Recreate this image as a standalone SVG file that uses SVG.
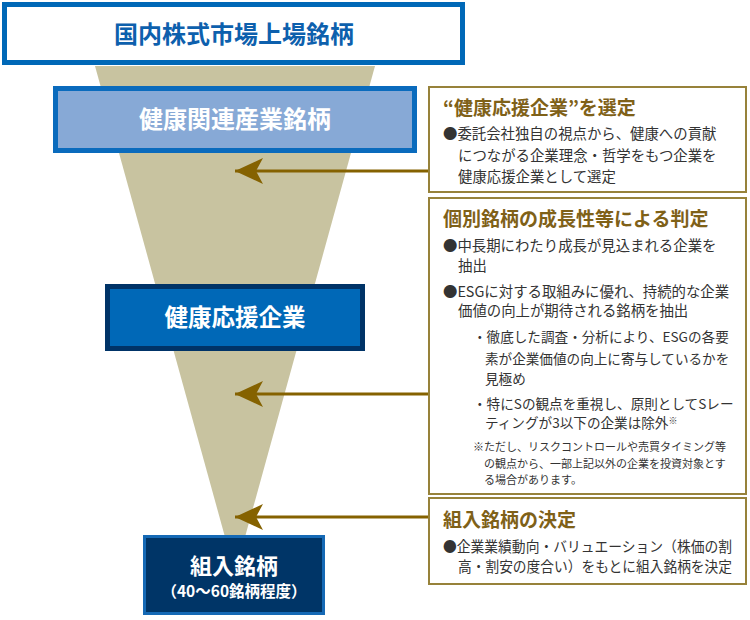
<svg xmlns="http://www.w3.org/2000/svg" width="750" height="620" viewBox="0 0 750 620">
  <defs>
    <style>
      text { font-family: "Noto Sans CJK JP", "Noto Sans", sans-serif; }
      .nodeT { font-weight: bold; text-anchor: middle; }
      .panel { fill: #ffffff; stroke: #97823a; stroke-width: 2; }
      .ttl { font-size: 19px; font-weight: bold; fill: #7f6118; }
      .body { font-size: 14.4px; fill: #333333; }
      .sub { font-size: 13.6px; fill: #333333; }
      .note { font-size: 11px; fill: #333333; }
      .conn { stroke: #856200; stroke-width: 3; fill: none; }
    </style>
    <marker id="ah" markerUnits="userSpaceOnUse" viewBox="0 0 28 26" refX="28" refY="13" markerWidth="28" markerHeight="26" orient="auto">
      <path d="M28,13 L0,0 L7,13 L0,26 Z" fill="#856200"/>
    </marker>
  </defs>

  <polygon id="funnel" points="95,66 375,66 245,537 225,537" fill="#c8c3a0"/>

  <g id="connectors">
    <line class="conn" x1="428" y1="171" x2="235" y2="171" marker-end="url(#ah)"/>
    <line class="conn" x1="428" y1="394" x2="235" y2="394" marker-end="url(#ah)"/>
    <line class="conn" x1="428" y1="517" x2="235" y2="517" marker-end="url(#ah)"/>
  </g>

  <g id="node-listed">
    <rect x="4.5" y="4.5" width="458" height="58" fill="#ffffff" stroke="#0068b7" stroke-width="5"/>
    <text class="nodeT" x="234" y="43" font-size="24" fill="#0d60ad">国内株式市場上場銘柄</text>
  </g>

  <g id="node-health-industry">
    <rect x="55.5" y="88.5" width="359" height="62" fill="#87a9d6" stroke="#0a6bbd" stroke-width="5"/>
    <text class="nodeT" x="235" y="128" font-size="24" fill="#ffffff">健康関連産業銘柄</text>
  </g>

  <g id="node-health-support">
    <rect x="107.5" y="286.5" width="255" height="62" fill="#0068b7" stroke="#003367" stroke-width="5"/>
    <text class="nodeT" x="235" y="326" font-size="23.5" fill="#ffffff">健康応援企業</text>
  </g>

  <g id="node-portfolio">
    <rect x="144.5" y="536.5" width="179" height="77" fill="#003567" stroke="#1569b5" stroke-width="3"/>
    <text class="nodeT" x="234" y="574" font-size="22" fill="#ffffff">組入銘柄</text>
    <text class="nodeT" x="234" y="597" font-size="15.5" fill="#ffffff">（40～60銘柄程度）</text>
  </g>

  <g id="panel-select">
    <rect class="panel" x="429" y="87" width="317" height="105"/>
    <text class="ttl" x="443" y="115">“健康応援企業”を選定</text>
    <text class="body" x="443" y="139">●委託会社独自の視点から、健康への貢献</text>
    <text class="body" x="458" y="161">につながる企業理念・哲学をもつ企業を</text>
    <text class="body" x="458" y="182">健康応援企業として選定</text>
  </g>

  <g id="panel-judge">
    <rect class="panel" x="429" y="198" width="317" height="296"/>
    <text class="ttl" x="443" y="226">個別銘柄の成長性等による判定</text>
    <text class="body" x="443" y="251">●中長期にわたり成長が見込まれる企業を</text>
    <text class="body" x="458" y="271">抽出</text>
    <text class="body" x="443" y="297">●ESGに対する取組みに優れ、持続的な企業</text>
    <text class="body" x="458" y="316">価値の向上が期待される銘柄を抽出</text>
    <text class="sub" x="473" y="342">・徹底した調査・分析により、ESGの各要</text>
    <text class="sub" x="485" y="364">素が企業価値の向上に寄与しているかを</text>
    <text class="sub" x="485" y="384">見極め</text>
    <text class="sub" x="473" y="409">・特にSの観点を重視し、原則としてSレー</text>
    <text class="sub" x="485" y="428">ティングが3以下の企業は除外<tspan font-size="9" dy="-4">※</tspan></text>
    <text class="note" x="473" y="451">※ただし、リスクコントロールや売買タイミング等</text>
    <text class="note" x="484" y="468">の観点から、一部上記以外の企業を投資対象とす</text>
    <text class="note" x="484" y="484">る場合があります。</text>
  </g>

  <g id="panel-decide">
    <rect class="panel" x="429" y="498" width="317" height="86"/>
    <text class="ttl" x="443" y="527">組入銘柄の決定</text>
    <text class="body" x="443" y="552" textLength="289" lengthAdjust="spacingAndGlyphs">●企業業績動向・バリュエーション（株価の割</text>
    <text class="body" x="458" y="572" textLength="274" lengthAdjust="spacingAndGlyphs">高・割安の度合い）をもとに組入銘柄を決定</text>
  </g>
</svg>
